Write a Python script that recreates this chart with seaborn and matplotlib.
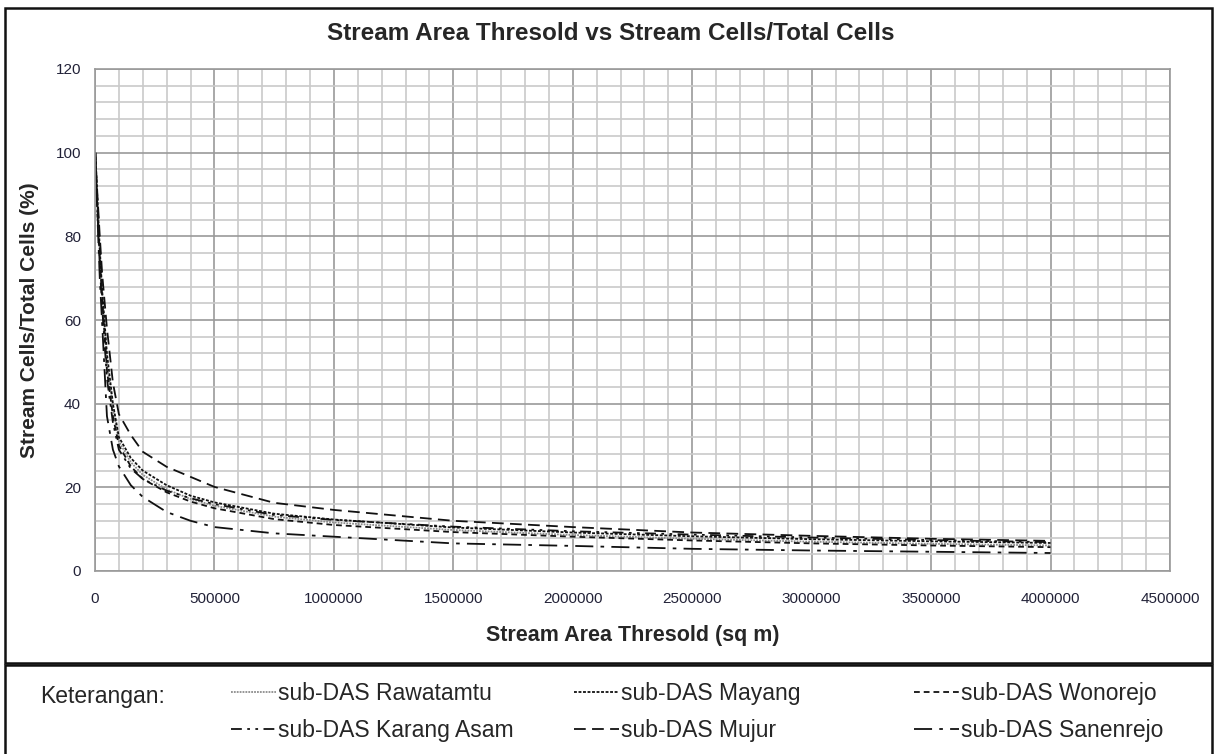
import numpy as np
import pandas as pd
import matplotlib
matplotlib.use("Agg")
import matplotlib.pyplot as plt
import seaborn as sns
from matplotlib.patches import Rectangle
from matplotlib.ticker import MultipleLocator

# ---------------- data ----------------
thresholds = [1000, 10000, 20000, 30000, 50000, 75000, 100000, 150000, 200000,
              300000, 400000, 500000, 750000, 1000000, 1500000, 2000000,
              2500000, 3000000, 3500000, 4000000]

series_names = ["sub-DAS Rawatamtu", "sub-DAS Mayang", "sub-DAS Wonorejo",
                "sub-DAS Karang Asam", "sub-DAS Mujur", "sub-DAS Sanenrejo"]

rawatamtu   = [100, 88, 76, 66, 50, 39.0, 31.0, 26.0, 23.0, 19.5, 17.2, 15.6, 13.0, 11.6, 9.8, 8.6, 7.7, 7.0, 6.5, 6.1]
mayang      = [100, 89, 77, 67, 52, 40.0, 32.0, 27.0, 24.0, 20.5, 18.0, 16.4, 13.7, 12.3, 10.4, 9.2, 8.3, 7.6, 7.1, 6.7]
wonorejo    = [100, 87, 75, 65, 48, 37.0, 30.0, 25.0, 22.0, 18.8, 16.6, 15.0, 12.4, 11.0, 9.3, 8.2, 7.3, 6.6, 6.1, 5.7]
karang_asam = [100, 86, 73, 63, 46, 35.5, 29.0, 24.5, 22.0, 19.2, 17.4, 16.0, 13.4, 12.2, 10.6, 9.5, 8.7, 8.0, 7.4, 6.9]
mujur       = [100, 90, 80, 71, 58, 45.0, 37.5, 32.5, 28.5, 24.9, 22.5, 20.1, 16.3, 14.6, 12.0, 10.5, 9.2, 8.4, 7.7, 7.2]
sanenrejo   = [100, 85, 70, 59, 37, 29.0, 25.0, 20.5, 17.7, 14.1, 12.0, 10.5, 9.0, 8.2, 6.6, 6.0, 5.3, 4.9, 4.6, 4.3]

title_text = "Stream Area Thresold vs Stream Cells/Total Cells"
xlabel_text = "Stream Area Thresold (sq m)"
ylabel_text = "Stream Cells/Total Cells (%)"
legend_title = "Keterangan:"

# ---------------- build long-form frame ----------------
all_values = [rawatamtu, mayang, wonorejo, karang_asam, mujur, sanenrejo]
df = pd.concat(
    [pd.DataFrame({"threshold": thresholds, "pct": vals, "series": name})
     for name, vals in zip(series_names, all_values)],
    ignore_index=True,
)

sns.set_style("white")
plt.rcParams["font.family"] = ["Liberation Sans", "DejaVu Sans"]

fig = plt.figure(figsize=(12.14, 7.54), dpi=100)
ax = fig.add_axes([95 / 1214, 1 - 571 / 754, (1170 - 95) / 1214, (571 - 69) / 754])

palette = {
    "sub-DAS Rawatamtu": "#8c8c8c",
    "sub-DAS Mayang": "#111111",
    "sub-DAS Wonorejo": "#111111",
    "sub-DAS Karang Asam": "#111111",
    "sub-DAS Mujur": "#111111",
    "sub-DAS Sanenrejo": "#111111",
}
dashes = {
    "sub-DAS Rawatamtu": (1, 0.6),
    "sub-DAS Mayang": (1.6, 0.9),
    "sub-DAS Wonorejo": (3.2, 2.2),
    "sub-DAS Karang Asam": (6, 3, 1.5, 3, 1.5, 3),
    "sub-DAS Mujur": (6.5, 3.5),
    "sub-DAS Sanenrejo": (10, 4, 2, 4),
}

sns.lineplot(data=df, x="threshold", y="pct", hue="series", style="series",
             palette=palette, dashes=dashes, hue_order=series_names,
             style_order=series_names, linewidth=1.3, ax=ax, legend=True)

handles, labels = ax.get_legend_handles_labels()
ax.get_legend().remove()
hmap = dict(zip(labels, handles))

# ---------------- axes styling ----------------
ax.set_xlim(0, 4500000)
ax.set_ylim(0, 120)
ax.xaxis.set_major_locator(MultipleLocator(500000))
ax.xaxis.set_minor_locator(MultipleLocator(100000))
ax.yaxis.set_major_locator(MultipleLocator(20))
ax.yaxis.set_minor_locator(MultipleLocator(4))
ax.ticklabel_format(style="plain", axis="x", useOffset=False)
ax.set_axisbelow(True)
ax.grid(which="major", color="#9a9a9a", linewidth=1.2)
ax.grid(which="minor", color="#cacaca", linewidth=1.2)
for s in ax.spines.values():
    s.set_color("#9a9a9a")
    s.set_linewidth(1.2)
ax.tick_params(which="major", length=5, color="#8a8a8a", direction="out",
               labelsize=11, labelcolor="#222238")
ax.tick_params(which="minor", length=0)
ax.tick_params(axis="x", pad=10)
ax.tick_params(axis="y", pad=5)

ax.set_xlabel(xlabel_text, fontsize=15.5, fontweight="bold", labelpad=14)
ax.set_ylabel(ylabel_text, fontsize=15, fontweight="bold", labelpad=12)
fig.text(611 / 1214, 1 - 34 / 754, title_text, ha="center", va="center",
         fontsize=17.5, fontweight="bold")

# ---------------- frames ----------------
fig.add_artist(Rectangle((4.5 / 1214, 1 - 663 / 754), (1211.5 - 4.5) / 1214,
                         (663 - 8) / 754, transform=fig.transFigure,
                         fill=False, edgecolor="#111111", linewidth=1.8))
fig.add_artist(Rectangle((4.5 / 1214, -0.01), (1211.5 - 4.5) / 1214,
                         0.01 + (754 - 665) / 754, transform=fig.transFigure,
                         fill=False, edgecolor="#111111", linewidth=1.8))

# ---------------- legend (three columns) ----------------
fig.text(40 / 1214, 1 - 697 / 754, legend_title, ha="left", va="center",
         fontsize=16.5)
col_x = [231, 574, 914]
cols = [["sub-DAS Rawatamtu", "sub-DAS Karang Asam"],
        ["sub-DAS Mayang", "sub-DAS Mujur"],
        ["sub-DAS Wonorejo", "sub-DAS Sanenrejo"]]
for cx, names in zip(col_x, cols):
    leg = fig.legend([hmap[n] for n in names], names, loc="upper left",
                     bbox_to_anchor=(cx / 1214, 1 - 682 / 754),
                     frameon=False, fontsize=16.5, handlelength=1.95,
                     handletextpad=0.12, labelspacing=0.62, borderpad=0,
                     borderaxespad=0)

fig.savefig("out.png", dpi=100)
